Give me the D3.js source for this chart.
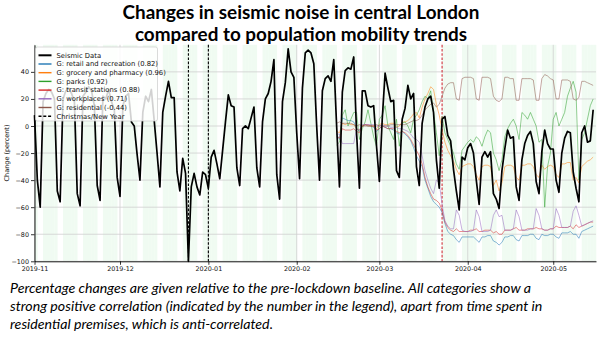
<!DOCTYPE html>
<html>
<head>
<meta charset="utf-8">
<script src="https://cdn.jsdelivr.net/npm/d3@7"></script>
<style>
  body { margin: 0; background: #fff; }
  svg { display: block; }
</style>
</head>
<body>
<svg id="chart" width="599" height="339"></svg>
<script>
// Daily seismic noise change (percent), consecutive days from seismicStart
const seismicStart = "2019-11-01";
const seismic = [
  8, -40, -60, 18, 24, 27, 25, 20, -48, -56,
  20, 26, 28, 24, 18, -50, -59, 22, 25, 29,
  26, 15, -44, -55, 22, 20, 27, 18, 12, -38,
  -52, 15, 22, 24, 3, 0, -21, -40, 10, 22,
  18, 27, 4, -20, -45, 10, 22, 33, 21, 21,
  -34, -48, -24, -35, -100, -45, -35, -45, -51, -34,
  -36, -46, -23, -18, -28, -39, -18, 3, 23, 15,
  14, -31, -44, -2, 0, -2, 6, 14, -31, -45,
  3, 20, 24, 33, 49, -36, -54, 18, 32, 57,
  40, 36, -5, -39, 28, 54, 56, 54, 46, 0,
  -40, 26, 35, 37, 33, 49, 0, -45, 25, 41,
  43, 42, 51, -5, -46, 26, 26, 15, 14, 15,
  -15, -41, 5, 39, 28, 18, 19, -33, -38, 5,
  13, 30, 20, 24, -30, -44, 2, 14, 20, 22,
  10, -25, -46, 5, 7, -7, -11, -32, -48, -62,
  -23, -25, -16, -13, -20, -40, -58, -23, -19, -23,
  -19, -50, -54, -61, -33, -17, -3, -9, -8, -45,
  -55, -25, -13, -7, -4, -13, -41, -50, -19, -3,
  -13, -17, -17, -40, -49, -20, -9, -4, -5, -34,
  -46, -56, -5, 0, -12, -11, 12
];

// Google community mobility (percent change), consecutive days from mobilityStart
const mobilityStart = "2020-02-15";
const retail = [
  -6, -10, 6, 5, 4, 4, 3, -2, -4, 0, 1, 0, 0, -1, -4, -2,
  0, -1, -2, -2, -3, -5, -6, -4, -6, -8, -11, -16, -22, -26,
  -30, -40, -46, -52, -56, -58, -60, -64, -72, -78, -80, -81, -84, -86,
  -82, -82, -82, -82, -82, -84, -86, -82, -82, -81, -81, -85, -86, -88,
  -86, -82, -82, -81, -81, -84, -85, -81, -81, -81, -80, -80, -83, -84,
  -80, -81, -81, -80, -80, -82, -83, -79, -79, -79, -78, -80, -80, -83,
  -78, -77, -76, -75, -74
];
const grocery = [
  -4, -5, 2, 1, 2, 1, 1, -2, -3, 0, 1, 0, 0, 0, -2, 1,
  2, 1, 1, 2, 2, -1, 0, 3, 3, 4, 6, 9, 10, 6,
  14, 20, 24, 29, 27, 16, 8, -3, -12, -18, -22, -26, -32, -36,
  -30, -29, -28, -28, -30, -36, -40, -30, -29, -29, -30, -44, -40, -48,
  -42, -30, -29, -29, -30, -38, -40, -29, -29, -28, -28, -30, -36, -38,
  -29, -32, -30, -29, -30, -36, -38, -28, -28, -27, -27, -40, -38, -42,
  -30, -28, -26, -25, -23
];
const parks = [
  -14, -12, 8, 12, 0, 5, 10, 10, -10, -2, 3, 12, 2, -8, -15, 5,
  8, 15, 0, -5, -10, 5, -15, 2, 3, 0, -5, 5, 8, 12,
  18, 22, 20, 26, 10, -5, -22, 7, -5, -10, -15, -20, -28, -32,
  -18, -15, -12, -10, -12, -8, -10, -15, -8, -3, -5, -20, -25, -33,
  -25, -8, -2, 2, 5, 0, -10, 10, 8, 5, 10, 5, 0, -12,
  -10, -60, -30, -20, 5, 10, 0, 5, 10, 22, 28, 33, 25, -40,
  -10, -5, 5, 15, 20
];
const transit = [
  -8, -9, -2, -3, -3, -3, -2, -4, -5, 0, 1, 1, 0, 0, -3, -2,
  0, -1, -2, -2, -2, -4, -5, -4, -5, -7, -10, -14, -18, -22,
  -28, -38, -45, -50, -54, -55, -57, -62, -71, -75, -77, -78, -76, -78,
  -78, -78, -78, -77, -77, -76, -78, -78, -77, -77, -77, -79, -78, -80,
  -80, -77, -77, -77, -76, -75, -77, -77, -77, -76, -76, -76, -75, -76,
  -76, -77, -77, -76, -76, -74, -75, -75, -75, -75, -74, -76, -73, -75,
  -74, -73, -72, -71, -71
];
const workplaces = [
  -6, -6, -13, -13, -13, -13, -13, -2, -3, 1, 1, 1, 1, 1, 0, 0,
  1, 0, 0, -1, -1, -1, -2, -2, -3, -4, -6, -9, -10, -12,
  -22, -33, -40, -46, -50, -40, -42, -58, -70, -74, -76, -76, -62, -66,
  -77, -78, -78, -78, -77, -62, -67, -78, -78, -78, -77, -66, -62, -67,
  -66, -77, -77, -77, -76, -62, -67, -77, -77, -77, -76, -76, -61, -66,
  -76, -77, -77, -76, -76, -61, -66, -75, -75, -75, -74, -63, -59, -66,
  -74, -73, -72, -71, -70
];
const residential = [
  2, 3, 2, 2, 2, 2, 1, 0, 1, 0, 0, 0, 0, 0, 1, 0,
  0, 0, 0, 1, 1, 1, 1, 1, 1, 2, 3, 4, 4, 5,
  8, 12, 14, 16, 17, 14, 16, 22, 28, 31, 32, 32, 20, 19,
  35, 36, 36, 36, 35, 20, 19, 36, 36, 36, 35, 22, 19, 18,
  20, 36, 36, 35, 35, 19, 19, 35, 35, 35, 35, 34, 19, 19,
  35, 38, 37, 35, 34, 20, 20, 34, 34, 34, 33, 20, 19, 21,
  33, 33, 32, 31, 30
];

const mobilityNames = [
  "G: retail and recreation (0.82)",
  "G: grocery and pharmacy (0.96)",
  "G: parks (0.92)",
  "G: transit stations (0.88)",
  "G: workplaces (0.71)",
  "G: residential (-0.44)"
];
const mobilityColors = ["#1f77b4", "#ff7f0e", "#2ca02c", "#d62728", "#9467bd", "#8c564b"];

const holidayDates = ["2019-12-25", "2020-01-01"];
const lockdownDate = "2020-03-23";
const xDomain = ["2019-11-01", "2020-05-16"];
const monthTicks = ["2019-11-01", "2019-12-01", "2020-01-01", "2020-02-01", "2020-03-01", "2020-04-01", "2020-05-01"];
const yTicks = [-100, -80, -60, -40, -20, 0, 20, 40];
const yDomain = [-100, 60];

const titleLines = ["Changes in seismic noise in central London", "compared to population mobility trends"];
const captionLines = [
  "Percentage changes are given relative to the pre-lockdown baseline. All categories show a",
  "strong positive correlation (indicated by the number in the legend), apart from time spent in",
  "residential premises, which is anti-correlated."
];

// ---------------------------------------------------------------------------
const parse = d3.utcParse("%Y-%m-%d");
const svg = d3.select("#chart");
const plot = { left: 34.5, right: 596, top: 44.8, bottom: 261.3 };

const x = d3.scaleUtc().domain(xDomain.map(parse)).range([plot.left, plot.right]);
const y = d3.scaleLinear().domain(yDomain).range([plot.bottom, plot.top]);

const daily = (start, values) => {
  const s = parse(start);
  return values.map((v, i) => ({ date: d3.utcDay.offset(s, i), v }));
};

// Weekday shading (weekends left white)
const days = d3.utcDay.range(parse(xDomain[0]), parse(xDomain[1]));
svg.append("g").selectAll("rect")
  .data(days.filter(d => d.getUTCDay() !== 0 && d.getUTCDay() !== 6))
  .join("rect")
  .attr("x", d => x(d))
  .attr("y", plot.top)
  .attr("width", d => x(d3.utcDay.offset(d, 1)) - x(d) + 0.3)
  .attr("height", plot.bottom - plot.top)
  .attr("fill", "#f0fbf2");

// Grid
const grid = svg.append("g").attr("stroke", "#cfcfcf").attr("stroke-width", 0.8);
grid.selectAll(".gy").data(yTicks).join("line")
  .attr("x1", plot.left).attr("x2", plot.right)
  .attr("y1", d => y(d)).attr("y2", d => y(d));
grid.selectAll(".gx").data(monthTicks.map(parse)).join("line")
  .attr("x1", d => x(d)).attr("x2", d => x(d))
  .attr("y1", plot.top).attr("y2", plot.bottom);

// Holiday and lockdown markers
svg.append("g").selectAll("line").data(holidayDates.map(parse)).join("line")
  .attr("x1", d => x(d)).attr("x2", d => x(d))
  .attr("y1", plot.top).attr("y2", plot.bottom)
  .attr("stroke", "#000").attr("stroke-width", 1.1).attr("stroke-dasharray", "2.6,1.6");
svg.append("line")
  .attr("x1", x(parse(lockdownDate))).attr("x2", x(parse(lockdownDate)))
  .attr("y1", plot.top).attr("y2", plot.bottom)
  .attr("stroke", "#d0303a").attr("stroke-width", 1.1).attr("stroke-dasharray", "2.6,1.6");

const line = d3.line().x(d => x(d.date)).y(d => y(d.v));

// Mobility series
const mobility = [retail, grocery, parks, transit, workplaces, residential];
svg.append("g").selectAll("path").data(mobility).join("path")
  .attr("d", s => line(daily(mobilityStart, s)))
  .attr("fill", "none")
  .attr("stroke", (s, i) => mobilityColors[i])
  .attr("stroke-width", 0.85)
  .attr("stroke-opacity", 0.62);

// Seismic series
svg.append("path")
  .attr("d", line(daily(seismicStart, seismic)))
  .attr("fill", "none")
  .attr("stroke", "#000")
  .attr("stroke-width", 1.7)
  .attr("stroke-linejoin", "round");

// Axes
const axisFont = "DejaVu Sans, sans-serif";
const yAxis = svg.append("g").attr("transform", `translate(${plot.left},0)`)
  .call(d3.axisLeft(y).tickValues(yTicks).tickSize(3.5).tickSizeOuter(0).tickPadding(2));
const xAxis = svg.append("g").attr("transform", `translate(0,${plot.bottom})`)
  .call(d3.axisBottom(x).tickValues(monthTicks.map(parse)).tickFormat(d3.utcFormat("%Y-%m"))
    .tickSize(3.5).tickSizeOuter(0).tickPadding(2));
[yAxis, xAxis].forEach(a => {
  a.selectAll("text").attr("font-family", axisFont).attr("font-size", 6.4).attr("fill", "#111");
  a.selectAll("line").attr("stroke", "#000").attr("stroke-width", 0.8);
  a.select(".domain").attr("stroke", "#000").attr("stroke-width", 0.9);
});

svg.append("text")
  .attr("transform", `translate(9,${(plot.top + plot.bottom) / 2}) rotate(-90)`)
  .attr("text-anchor", "middle")
  .attr("font-family", axisFont).attr("font-size", 6.5).attr("fill", "#111")
  .text("Change (percent)");

// Legend
const legendItems = [{ label: "Seismic Data", color: "#000", width: 2, dash: null }]
  .concat(mobilityNames.map((n, i) => ({ label: n, color: mobilityColors[i], width: 1.4, dash: null })))
  .concat([{ label: "Christmas/New Year", color: "#000", width: 1.4, dash: "3,1.8" }]);
const lg = svg.append("g");
lg.append("rect")
  .attr("x", 35.5).attr("y", 47).attr("width", 122).attr("height", 74).attr("rx", 2)
  .attr("fill", "#fff").attr("fill-opacity", 0.82)
  .attr("stroke", "#cccccc").attr("stroke-width", 0.7);
const rows = lg.selectAll("g.row").data(legendItems).join("g")
  .attr("transform", (d, i) => `translate(0,${55.3 + i * 8.7})`);
rows.append("line")
  .attr("x1", 38.5).attr("x2", 51.5)
  .attr("stroke", d => d.color).attr("stroke-width", d => d.width)
  .attr("stroke-dasharray", d => d.dash);
rows.append("text")
  .attr("x", 56.5).attr("dy", "0.35em")
  .attr("font-family", axisFont).attr("font-size", 6.8).attr("fill", "#111")
  .text(d => d.label);

// Title
svg.append("g").selectAll("text").data(titleLines).join("text")
  .attr("x", 301).attr("y", (d, i) => 19 + i * 22)
  .attr("text-anchor", "middle")
  .attr("font-family", "Lato, sans-serif").attr("font-weight", "bold")
  .attr("font-size", 18.9).attr("fill", "#000")
  .text(d => d);

// Caption
svg.append("g").selectAll("text").data(captionLines).join("text")
  .attr("x", 10).attr("y", (d, i) => 293 + i * 18)
  .attr("font-family", "Lato, sans-serif").attr("font-style", "italic")
  .attr("font-size", 14.2).attr("fill", "#000")
  .text(d => d);
</script>
</body>
</html>
